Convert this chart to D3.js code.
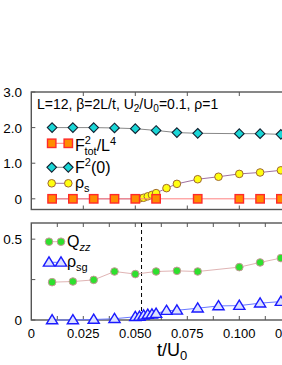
<!DOCTYPE html>
<html>
<head>
<meta charset="utf-8">
<script src="https://cdn.jsdelivr.net/npm/d3@7"></script>
<style>
  body { margin: 0; background: #fff; }
  svg { display: block; font-family: "Liberation Sans", Arial, sans-serif; }
</style>
</head>
<body>
<div id="chart"></div>
<script>
// values
const tF2 = [0.01, 0.02, 0.03, 0.04, 0.05, 0.06, 0.07, 0.08, 0.10, 0.11, 0.12];
const F2 = [2.0, 2.0, 2.0, 1.99, 1.97, 1.92, 1.86, 1.84, 1.83, 1.83, 1.81];

const tFtot = [0.01, 0.02, 0.03, 0.04, 0.05, 0.06, 0.08, 0.10, 0.11, 0.12];
const Ftot = [0, 0, 0, 0, 0, 0, 0, 0, 0, 0];

const tRhoS = [0.01, 0.02, 0.03, 0.04, 0.05, 0.052, 0.054, 0.056, 0.058, 0.06, 0.065, 0.07, 0.08, 0.09, 0.10, 0.11, 0.12];
const rhoS = [0, 0, 0, 0, 0, 0.01, 0.03, 0.07, 0.11, 0.16, 0.30, 0.42, 0.55, 0.62, 0.70, 0.74, 0.80];

const tQ = [0.01, 0.02, 0.03, 0.04, 0.05, 0.06, 0.07, 0.08, 0.10, 0.11, 0.12];
const Qzz = [0.234, 0.238, 0.248, 0.30, 0.284, 0.30, 0.304, 0.30, 0.327, 0.356, 0.383];

const tRsg = [0.01, 0.02, 0.03, 0.04, 0.05, 0.052, 0.054, 0.056, 0.058, 0.06, 0.065, 0.07, 0.08, 0.09, 0.10, 0.11, 0.12];
const rhoSg = [0, 0, 0.003, 0.008, 0.02, 0.022, 0.029, 0.034, 0.036, 0.04, 0.058, 0.06, 0.073, 0.087, 0.089, 0.104, 0.114];

const tCrit = 0.053;

const xTicks = [0, 0.025, 0.05, 0.075, 0.1, 0.125];
const yTicksTop = [0, 1, 2, 3];
const yTicksBot = [0, 0.25, 0.5];

const svgWidth = 282;
const svgHeight = 365;

const svg = d3.select("#chart").append("svg")
  .attr("width", svgWidth)
  .attr("height", svgHeight);

const x = d3.scaleLinear().domain([0, 0.13]).range([31.3, 301.7]);
const yTop = d3.scaleLinear().domain([-0.3, 3.0]).range([209.5, 92]);
const yBot = d3.scaleLinear().domain([0, 0.6]).range([320, 223]);

const frameColor = "#555";

function frame(y) {
  const [y0, y1] = y.range();
  svg.append("rect")
    .attr("x", x(0)).attr("y", y1)
    .attr("width", x(0.14) - x(0)).attr("height", y0 - y1)
    .attr("fill", "none").attr("stroke", frameColor).attr("stroke-width", 1.4);
}

function ticks(y, yt, xt) {
  const [y0, y1] = y.range();
  // x ticks on bottom and top, inward
  xt.forEach(t => {
    svg.append("line").attr("x1", x(t)).attr("x2", x(t))
      .attr("y1", y0).attr("y2", y0 - 4).attr("stroke", frameColor);
    svg.append("line").attr("x1", x(t)).attr("x2", x(t))
      .attr("y1", y1).attr("y2", y1 + 4).attr("stroke", frameColor);
  });
  yt.forEach(v => {
    svg.append("line").attr("x1", x(0)).attr("x2", x(0) + 4)
      .attr("y1", y(v)).attr("y2", y(v)).attr("stroke", frameColor);
  });
}

frame(yTop);
frame(yBot);
ticks(yTop, yTicksTop, d3.range(1, 6).map(i => i * 0.025));
ticks(yBot, yTicksBot, d3.range(1, 11).map(i => i * 0.0125));

// tick labels
yTicksTop.forEach(v => {
  svg.append("text").attr("x", 22).attr("y", yTop(v) + 5)
    .attr("text-anchor", "end").attr("font-size", 13.5)
    .text(v === 0 ? "0" : d3.format(".1f")(v));
});
[0, 0.5].forEach(v => {
  svg.append("text").attr("x", 22).attr("y", yBot(v) + 5)
    .attr("text-anchor", "end").attr("font-size", 13.5)
    .text(v === 0 ? "0" : d3.format(".1f")(v));
});
xTicks.forEach(t => {
  svg.append("text").attr("x", x(t)).attr("y", 338)
    .attr("text-anchor", "middle").attr("font-size", 13)
    .text(t === 0 ? "0" : d3.format(".3f")(t));
});

// axis label
const xl = svg.append("text").attr("x", 157).attr("y", 356).attr("font-size", 18);
xl.append("tspan").text("t/U");
xl.append("tspan").attr("font-size", 13).attr("dy", 4).text("0");

// annotation
const ann = svg.append("text").attr("x", 37).attr("y", 109).attr("font-size", 14);
ann.append("tspan").text("L=12, β=2L/t, U");
ann.append("tspan").attr("font-size", 10).attr("dy", 3).text("2");
ann.append("tspan").attr("dy", -3).text("/U");
ann.append("tspan").attr("font-size", 10).attr("dy", 3).text("0");
ann.append("tspan").attr("dy", -3).text("=0.1, ρ=1");

// markers
function marker(g, type, cx, cy, st) {
  if (type === "circle") {
    g.append("circle").attr("cx", cx).attr("cy", cy).attr("r", 3.8)
      .attr("fill", st.fill).attr("stroke", st.stroke).attr("stroke-width", 1);
  } else if (type === "square") {
    g.append("rect").attr("x", cx - 4.2).attr("y", cy - 4.2).attr("width", 8.4).attr("height", 8.4)
      .attr("fill", st.fill).attr("stroke", st.stroke).attr("stroke-width", 1.4);
  } else if (type === "diamond") {
    g.append("path").attr("d", `M${cx},${cy - 4.8}L${cx + 4.8},${cy}L${cx},${cy + 4.8}L${cx - 4.8},${cy}Z`)
      .attr("fill", st.fill).attr("stroke", st.stroke).attr("stroke-width", 1.1);
  } else if (type === "triangle") {
    g.append("path").attr("d", `M${cx},${cy - 5.4}L${cx + 5.6},${cy + 3.8}L${cx - 5.6},${cy + 3.8}Z`)
      .attr("fill", st.fill).attr("stroke", st.stroke).attr("stroke-width", 1.4);
  }
}

function series(xs, ys, y, type, st) {
  const g = svg.append("g");
  const line = d3.line().x(d => x(d[0])).y(d => y(d[1]));
  g.append("path").datum(xs.map((t, i) => [t, ys[i]]))
    .attr("d", line).attr("fill", "none")
    .attr("stroke", st.line).attr("stroke-width", 1);
  xs.forEach((t, i) => marker(g, type, x(t), y(ys[i]), st));
}

function legend(lx1, lx2, ly, type, st) {
  const g = svg.append("g");
  g.append("line").attr("x1", lx1).attr("x2", lx2).attr("y1", ly).attr("y2", ly)
    .attr("stroke", st.line).attr("stroke-width", 1);
  marker(g, type, lx1, ly, st);
  marker(g, type, lx2, ly, st);
}

const stF2 = { fill: "#1ad6d6", stroke: "#102030", line: "#888" };
const stFtot = { fill: "#ff8c00", stroke: "#ff2a2a", line: "#ff8080" };
const stRho = { fill: "#ffff10", stroke: "#a06830", line: "#a070a0" };
const stQ = { fill: "#2ee02e", stroke: "#c89898", line: "#e0b4b4" };
const stSg = { fill: "#dde2ff", stroke: "#1a1aff", line: "#6878ff" };

// top panel
series(tF2, F2, yTop, "diamond", stF2);
series(tRhoS, rhoS, yTop, "circle", stRho);
series(tFtot, Ftot, yTop, "square", stFtot);

// bottom panel
svg.append("line").attr("x1", x(tCrit)).attr("x2", x(tCrit))
  .attr("y1", yBot.range()[1]).attr("y2", yBot.range()[0])
  .attr("stroke", "#000").attr("stroke-width", 1).attr("stroke-dasharray", "4,3");
series(tQ, Qzz, yBot, "circle", stQ);
series(tRsg, rhoSg, yBot, "triangle", stSg);

// legends top
legend(51.7, 68.3, 143.3, "square", stFtot);
const l1 = svg.append("text").attr("x", 75).attr("y", 150.5).attr("font-size", 16);
l1.append("tspan").text("F");
l1.append("tspan").attr("font-size", 11).attr("dy", -7).text("2");
l1.append("tspan").attr("font-size", 11).attr("dx", -6.5).attr("dy", 11).text("tot");
l1.append("tspan").attr("dy", -4).text("/L");
l1.append("tspan").attr("font-size", 11).attr("dy", -6).text("4");

legend(51.7, 68.3, 167.3, "diamond", stF2);
const l2 = svg.append("text").attr("x", 75).attr("y", 172.5).attr("font-size", 16);
l2.append("tspan").text("F");
l2.append("tspan").attr("font-size", 11).attr("dy", -7).text("2");
l2.append("tspan").attr("dy", 7).text("(0)");

legend(51.7, 68.3, 183.3, "circle", stRho);
const l3 = svg.append("text").attr("x", 75).attr("y", 188).attr("font-size", 16);
l3.append("tspan").text("ρ");
l3.append("tspan").attr("font-size", 11).attr("dy", 4).text("s");

// legends bottom
legend(49, 61, 241.7, "circle", stQ);
const l4 = svg.append("text").attr("x", 67).attr("y", 247).attr("font-size", 16);
l4.append("tspan").text("Q");
l4.append("tspan").attr("font-size", 11).attr("dy", 4).attr("font-style", "italic").text("zz");

legend(49, 61, 262.3, "triangle", stSg);
const l5 = svg.append("text").attr("x", 67).attr("y", 267).attr("font-size", 16);
l5.append("tspan").text("ρ");
l5.append("tspan").attr("font-size", 11).attr("dy", 4).text("sg");
</script>
</body>
</html>
